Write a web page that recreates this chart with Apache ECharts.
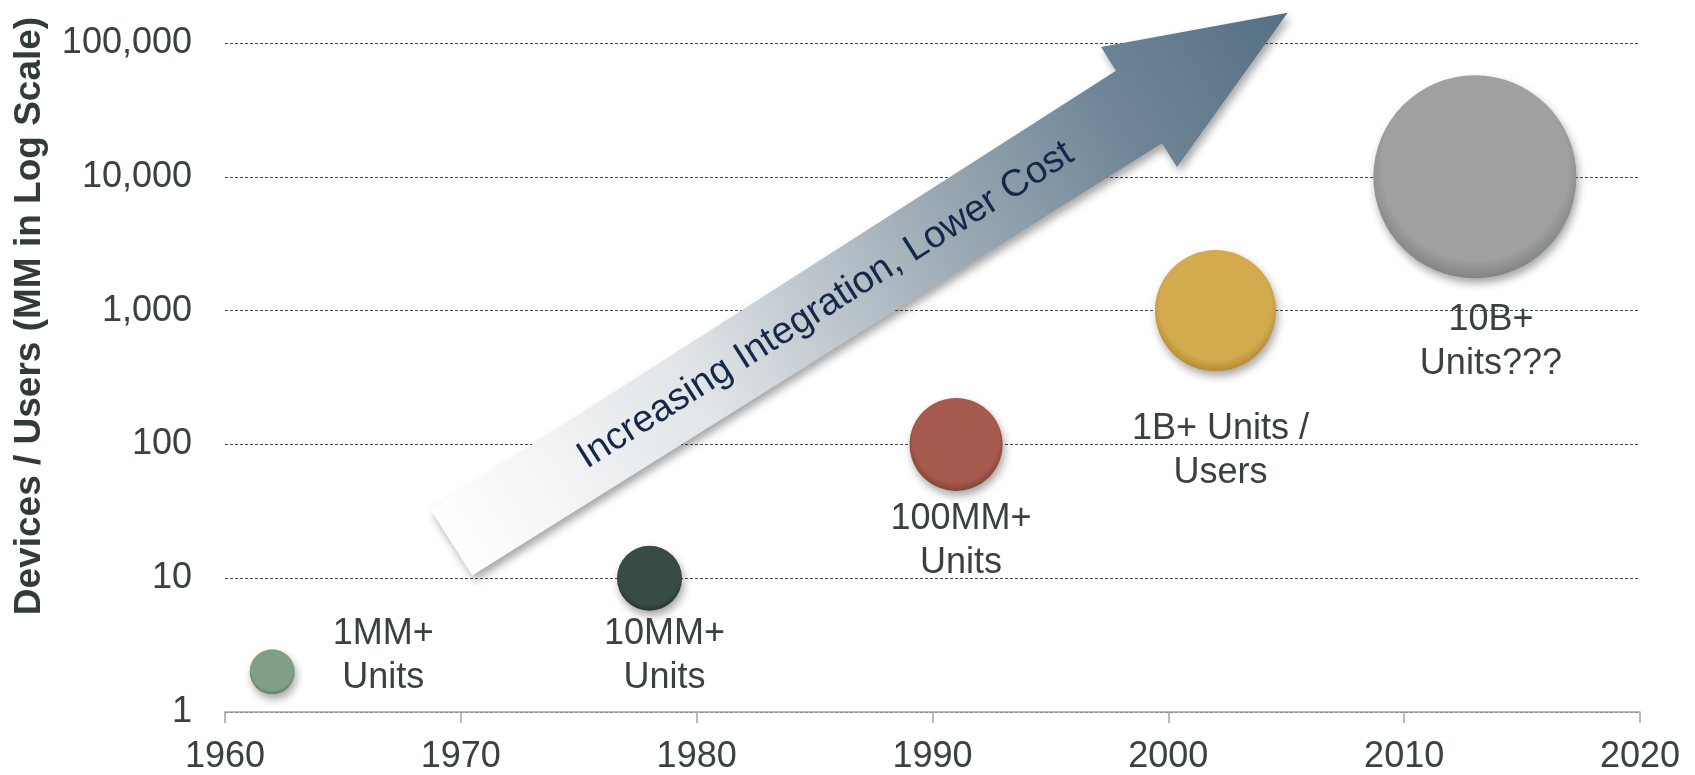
<!DOCTYPE html>
<html><head><meta charset="utf-8">
<script src="https://cdn.jsdelivr.net/npm/echarts@6/dist/echarts.min.js"></script>
<style>html,body{margin:0;padding:0;background:#fff}#c{width:1695px;height:775px}</style>
</head><body><div id="c"></div>
<script>
// ---------- data ----------
const years  = [1962, 1978, 1991, 2002, 2013];
const values = [2, 10, 100, 1000, 10000];
const labels = ['1MM+\nUnits', '10MM+\nUnits', '100MM+\nUnits', '1B+ Units /\nUsers', '10B+\nUnits???'];
const xTicks = [1960, 1970, 1980, 1990, 2000, 2010, 2020];
const yTicks = [1, 10, 100, 1000, 10000, 100000];
const yAxisTitle = 'Devices / Users (MM in Log Scale)';
const arrowText = 'Increasing Integration, Lower Cost';
const arrowTail = [1969.6, 18.5];     // data coords (year, value)
const arrowTip  = [2005.06, 168000];

// ---------- styles ----------
const FONT = '"Liberation Sans", Arial, Helvetica, sans-serif';
const TXT = '#3a4141';
const bubbleSizes = [45, 65, 93, 121, 203];
const bubbleColors = [
  ['#7fa087', '#5a7762'],
  ['#394b47', '#243230'],
  ['#a55a4d', '#80402f'],
  ['#d4aa4e', '#b0882e'],
  ['#9ea1a0', '#7d8180']
];
const labelOffsets = [[111, -16], [15, 78], [5, 97], [5, 140], [16, 165]];

const chart = echarts.init(document.getElementById('c'), null, {renderer: 'canvas'});

const seriesData = years.map((y, i) => ({
  value: [y, values[i]],
  symbolSize: bubbleSizes[i],
  itemStyle: {
    opacity: 1,
    color: new echarts.graphic.RadialGradient(0.5, 0.45, 0.56, [
      {offset: 0, color: bubbleColors[i][0]},
      {offset: 0.82, color: bubbleColors[i][0]},
      {offset: 1, color: bubbleColors[i][1]}
    ]),
    shadowBlur: 8, shadowOffsetX: 2, shadowOffsetY: 5,
    shadowColor: 'rgba(0,0,0,0.35)'
  },
  label: {
    show: true, position: 'inside', offset: labelOffsets[i],
    formatter: labels[i], fontSize: 36, lineHeight: 44,
    fontFamily: FONT, color: TXT, opacity: 1, align: 'center'
  }
}));

chart.setOption({
  animation: false,
  grid: {left: 225, right: 55, top: 43, bottom: 60},
  xAxis: {
    type: 'value', min: xTicks[0], max: xTicks[xTicks.length - 1], interval: 10,
    axisLine: {show: true, lineStyle: {color: '#a3a3a3', width: 1.5}},
    axisTick: {show: true, length: 11, lineStyle: {color: '#a3a3a3', width: 1.5}},
    splitLine: {show: false},
    axisLabel: {fontSize: 36, fontFamily: FONT, color: TXT, margin: 27,
      formatter: v => String(v)}
  },
  yAxis: {
    type: 'log', logBase: 10, min: yTicks[0], max: yTicks[yTicks.length - 1],
    axisLine: {show: false}, axisTick: {show: false},
    splitLine: {show: true, lineStyle: {color: '#4a4a4a', width: 1, type: [3, 2]}},
    axisLabel: {fontSize: 36, fontFamily: FONT, color: TXT, margin: 33,
      formatter: v => Number(v).toLocaleString('en-US')}
  },
  series: [{
    type: 'scatter', z: 10, data: seriesData, symbol: 'circle',
    itemStyle: {opacity: 1},
    emphasis: {disabled: true}, silent: true
  }]
});

// ---------- annotations: arrow + y-axis title ----------
const p0 = chart.convertToPixel({gridIndex: 0}, arrowTail);
const p1 = chart.convertToPixel({gridIndex: 0}, arrowTip);
const dx = p1[0] - p0[0], dy = p1[1] - p0[1];
const L = Math.hypot(dx, dy);
const u = [dx / L, dy / L];
const n = [-u[1], u[0]];
const wTail = 39, wBase = 43, hw = 71, headLen = 176;
const base = [p1[0] - u[0] * headLen, p1[1] - u[1] * headLen];
const P = (pt, k) => [pt[0] + n[0] * k, pt[1] + n[1] * k];
const pts = [P(p0, -wTail), P(base, -wBase), P(base, -hw), p1, P(base, hw), P(base, wBase), P(p0, wTail)];
const textDist = 443;
const tc = [p0[0] + u[0] * textDist, p0[1] + u[1] * textDist];
const angle = -Math.atan2(dy, dx);

chart.setOption({
  graphic: [
    {
      type: 'polygon', z: 5, silent: true,
      shape: {points: pts},
      style: {
        fill: new echarts.graphic.LinearGradient(p0[0], p0[1], p1[0], p1[1], [
          {offset: 0, color: '#ffffff'},
          {offset: 0.3, color: '#e0e4e7'},
          {offset: 0.55, color: '#a5b1ba'},
          {offset: 0.8, color: '#6f8597'},
          {offset: 1, color: '#557085'}
        ], true),
        shadowBlur: 9, shadowOffsetX: 3, shadowOffsetY: 5,
        shadowColor: 'rgba(0,0,0,0.35)'
      }
    },
    {
      type: 'text', z: 6, silent: true,
      x: tc[0], y: tc[1], rotation: angle,
      style: {text: arrowText, font: '38px ' + FONT, fill: '#14294a',
        align: 'center', verticalAlign: 'middle'}
    },
    {
      type: 'text', z: 6, silent: true,
      x: 30, y: 316, rotation: Math.PI / 2,
      style: {text: yAxisTitle, font: 'bold 37px ' + FONT, fill: '#333a3a',
        align: 'center', verticalAlign: 'middle'}
    }
  ]
});
</script>
</body></html>
